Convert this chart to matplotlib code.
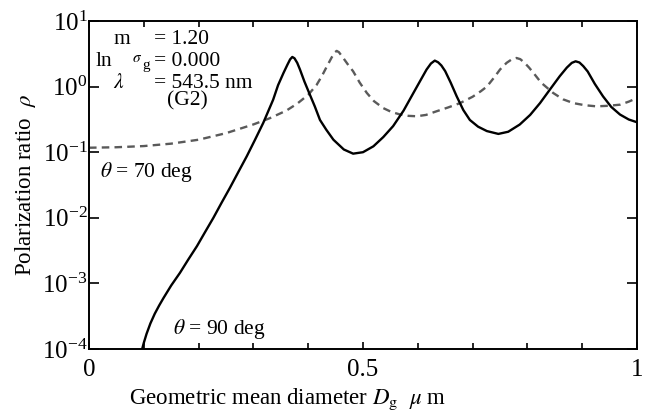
import matplotlib
matplotlib.use("Agg")
import matplotlib.pyplot as plt
from matplotlib.ticker import MultipleLocator, NullLocator

plt.rcParams['font.family'] = ['Liberation Serif', 'DejaVu Serif']
plt.rcParams['mathtext.fontset'] = 'stix'

# theta = 90 deg
d90 = [0.097, 0.100, 0.105, 0.112, 0.120, 0.128, 0.136, 0.150, 0.166, 0.181,
       0.197, 0.212, 0.227, 0.242, 0.257, 0.272, 0.288, 0.303, 0.318, 0.327,
       0.336, 0.345, 0.355, 0.362, 0.367, 0.371, 0.375, 0.380, 0.385, 0.393,
       0.403, 0.412, 0.4215, 0.433, 0.446, 0.465, 0.482, 0.500, 0.519, 0.537,
       0.555, 0.574, 0.592, 0.605, 0.616, 0.624, 0.631, 0.637, 0.643, 0.650,
       0.660, 0.671, 0.683, 0.695, 0.710, 0.726, 0.747, 0.765, 0.786, 0.805,
       0.823, 0.841, 0.859, 0.872, 0.881, 0.888, 0.895, 0.902, 0.910, 0.923,
       0.938, 0.953, 0.969, 0.985, 1.0]
rho90 = [1.0e-4, 1.24e-4, 1.7e-4, 2.45e-4, 3.45e-4, 4.6e-4, 6.0e-4, 9.3e-4, 1.45e-3, 2.3e-3,
         3.7e-3, 6.1e-3, 1.0e-2, 1.7e-2, 2.85e-2, 4.9e-2, 8.7e-2, 0.155, 0.28, 0.42,
         0.63, 1.05, 1.62, 2.15, 2.6, 2.83, 2.7, 2.3, 1.82, 1.2,
         0.755, 0.5, 0.31, 0.22, 0.155, 0.11, 0.095, 0.10, 0.123, 0.17,
         0.25, 0.43, 0.8, 1.25, 1.82, 2.25, 2.49, 2.35, 2.1, 1.72,
         1.15, 0.71, 0.44, 0.31, 0.245, 0.21, 0.19, 0.205, 0.264, 0.37,
         0.56, 0.9, 1.44, 1.95, 2.3, 2.43, 2.33, 2.05, 1.7, 1.1,
         0.71, 0.49, 0.375, 0.315, 0.286]

# theta = 70 deg
d70 = [0.0, 0.05, 0.1, 0.15, 0.2, 0.25, 0.3, 0.33, 0.36, 0.38,
       0.40, 0.415, 0.425, 0.435, 0.443, 0.449, 0.452, 0.456, 0.463, 0.472,
       0.482, 0.494, 0.507, 0.52, 0.537, 0.552, 0.568, 0.583, 0.598, 0.615,
       0.634, 0.655, 0.677, 0.70, 0.715, 0.726, 0.74, 0.75, 0.762, 0.772,
       0.78, 0.787, 0.795, 0.803, 0.811, 0.825, 0.847, 0.865, 0.884, 0.905,
       0.926, 0.948, 0.969, 0.985, 1.0]
rho70 = [0.117, 0.119, 0.124, 0.135, 0.155, 0.195, 0.265, 0.33, 0.43, 0.55,
         0.75, 1.05, 1.45, 2.1, 2.8, 3.35, 3.5, 3.35, 2.8, 2.2,
         1.71, 1.15, 0.8, 0.6, 0.47, 0.41, 0.375, 0.358, 0.353, 0.37,
         0.42, 0.48, 0.56, 0.7, 0.85, 1.0, 1.4, 1.82, 2.3, 2.62,
         2.73, 2.62, 2.3, 1.95, 1.62, 1.15, 0.8, 0.64, 0.56, 0.52,
         0.5, 0.51, 0.53, 0.59, 0.67]

fig = plt.figure(figsize=(6.56, 4.12), dpi=100)
ax = fig.add_axes([89/656, 1-349/412, 548/656, 328/412])

ax.plot(d70, rho70, color='#5a5a5a', linewidth=1.7, linestyle=(0, (3.2, 2.2)))
ax.plot(d90, rho90, color='black', linewidth=1.7)

ax.set_yscale('log')
ax.set_xlim(0, 1)
ax.set_ylim(1e-4, 10)

ax.set_xticks([0, 0.5, 1])
ax.set_xticklabels(['0', '0.5', '1'])
ax.xaxis.set_minor_locator(MultipleLocator(0.1))
ax.yaxis.set_minor_locator(NullLocator())
ax.tick_params(axis='both', which='both', direction='in', top=True, right=True,
               labelsize=18, width=1.2)
ax.tick_params(axis='x', which='major', length=5, pad=7)
ax.tick_params(axis='x', which='minor', length=4)
ax.tick_params(axis='y', which='major', length=7, pad=1)
for s in ax.spines.values():
    s.set_linewidth(1.4)

ax.set_xlabel(r'Geometric mean diameter $D_{\rm g}$  $\mu$ m', fontsize=16.5, labelpad=4)
ax.xaxis.label.set_x((288 - 89) / 548)
ax.set_ylabel(r'Polarization ratio  $\rho$', fontsize=16.5, labelpad=3)

def px(x, y):
    return ((x - 89) / 548, (349 - y) / 328)

tf = ax.transAxes
fs = 15.5
ax.text(*px(113, 40), 'm', fontsize=fs, transform=tf, va='center')
ax.text(*px(154, 40), '= 1.20', fontsize=fs, transform=tf, va='center')
ax.text(*px(96, 61), 'ln', fontsize=fs, transform=tf, va='center')
ax.text(*px(132, 59), r'$\sigma$', fontsize=11, transform=tf, va='center')
ax.text(*px(142, 66), 'g', fontsize=11, transform=tf, va='center')
ax.text(*px(154, 61), '= 0.000', fontsize=fs, transform=tf, va='center')
ax.text(*px(113, 83), r'$\lambda$', fontsize=fs, transform=tf, va='center')
ax.text(*px(154, 83), '= 543.5 nm', fontsize=fs, transform=tf, va='center')
ax.text(*px(187, 101), '(G2)', fontsize=fs, transform=tf, va='center', ha='center')
ax.text(*px(100, 172), r'$\theta$ = 70 deg', fontsize=fs, transform=tf, va='center')
ax.text(*px(173, 329), r'$\theta$ = 90 deg', fontsize=fs, transform=tf, va='center')

fig.savefig('out.png', dpi=100)
